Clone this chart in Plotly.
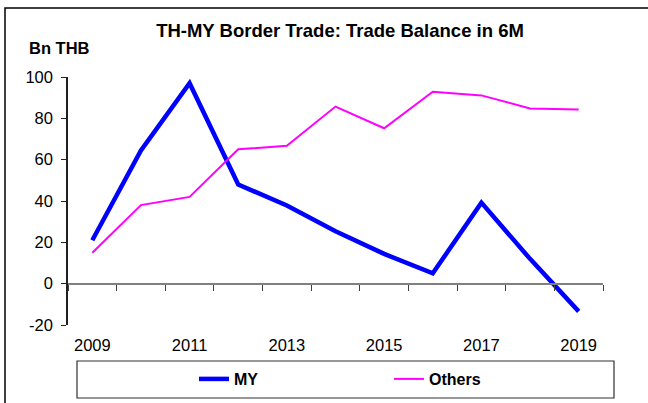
import plotly.graph_objects as go

years = [2009, 2010, 2011, 2012, 2013, 2014, 2015, 2016, 2017, 2018, 2019]
my_values = [21, 64.5, 97, 48, 37.8, 25.4, 14.4, 5, 39.2, 12, -13.4]
others_values = [15, 38, 42, 65, 66.7, 85.7, 75.2, 92.9, 91.1, 84.8, 84.3]
label_years = years[::2]
y_ticks = [-20, 0, 20, 40, 60, 80, 100]
y_tick_text = ["-20", "0", "20", "40", "60", "80", "100"]

FONT = "Liberation Sans, Arial, sans-serif"

fig = go.Figure()
fig.add_trace(go.Scatter(x=years, y=my_values, mode="lines", name="<b>MY</b>",
                         line=dict(color="#0000FF", width=4.5)))
fig.add_trace(go.Scatter(x=years, y=others_values, mode="lines", name="<b>Others</b>",
                         line=dict(color="#FF00FF", width=2)))
# invisible trace to carry the axis placed at y=0
fig.add_trace(go.Scatter(x=[years[0]], y=[0], xaxis="x2", mode="lines",
                         showlegend=False, hoverinfo="skip", line=dict(width=0)))

xmin, xmax = years[0] - 0.5, years[-1] + 0.5
boundaries = [y - 0.5 for y in years] + [years[-1] + 0.5]

fig.update_layout(
    width=648, height=403,
    margin=dict(l=68, r=45, t=77, b=78),
    paper_bgcolor="white", plot_bgcolor="white",
    font=dict(family=FONT, size=16, color="black"),
    title=dict(text="<b>TH-MY Border Trade: Trade Balance in 6M</b>",
               x=340/648, xanchor="center", y=1-31/403, yanchor="middle",
               font=dict(size=18.5, family=FONT)),
    xaxis=dict(range=[xmin, xmax], tickvals=label_years,
               ticktext=[str(y) for y in label_years],
               showline=False, showgrid=False, zeroline=False,
               ticks="outside", ticklen=5, tickcolor="rgba(0,0,0,0)",
               tickfont=dict(size=16.5), automargin=False),
    xaxis2=dict(range=[xmin, xmax], overlaying="x", anchor="free",
                position=20/120, tickvals=boundaries, showticklabels=False,
                showline=True, linecolor="#808080", linewidth=2,
                ticks="outside", ticklen=6, tickcolor="#404040", tickwidth=1,
                showgrid=False, zeroline=False, automargin=False),
    yaxis=dict(range=[-20, 100], tickvals=y_ticks, ticktext=y_tick_text,
               showline=True, linecolor="#202020", linewidth=1.5,
               ticks="outside", ticklen=5, tickcolor="#202020",
               ticklabelstandoff=5,
               showgrid=False, zeroline=False, tickfont=dict(size=16.5),
               automargin=False),
    legend=dict(orientation="h", xref="container", yref="container",
                x=194/648, xanchor="left", y=1-379/403, yanchor="middle",
                entrywidth=150, entrywidthmode="pixels",
                font=dict(size=16, family=FONT), bgcolor="rgba(0,0,0,0)"),
    annotations=[dict(text="<b>Bn THB</b>", xref="paper", yref="paper",
                      x=(27-68)/535, y=(325-48)/248, xanchor="left", yanchor="middle",
                      showarrow=False, font=dict(size=16.5, family=FONT))],
    shapes=[
        dict(type="rect", xref="paper", yref="paper",
             x0=(77-68)/535, x1=(614-68)/535, y0=(325-398)/248, y1=(325-361)/248,
             line=dict(color="#303030", width=1.2), fillcolor="rgba(0,0,0,0)"),
        dict(type="rect", xref="paper", yref="paper",
             x0=(5-68)/535, x1=(660-68)/535, y0=(325-420)/248, y1=(325-8)/248,
             line=dict(color="black", width=1.5), fillcolor="rgba(0,0,0,0)"),
    ],
)

fig.write_html("out.html", config={"displayModeBar": False},
               post_script="document.body.style.margin='0';document.body.style.overflow='hidden';")
